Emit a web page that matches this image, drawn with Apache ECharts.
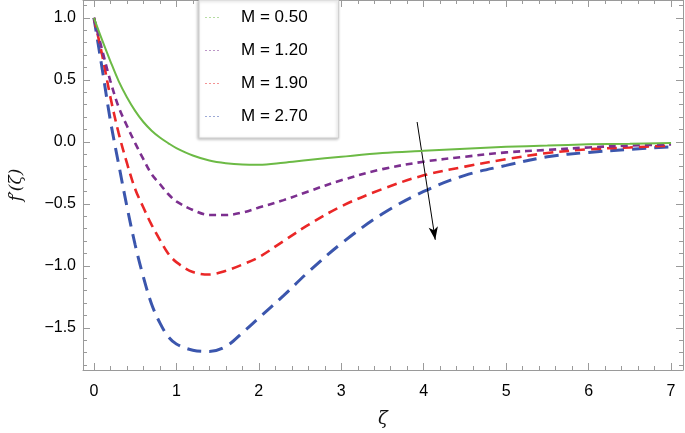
<!DOCTYPE html>
<html>
<head>
<meta charset="utf-8">
<script src="https://cdn.jsdelivr.net/npm/echarts@6/dist/echarts.min.js"></script>
<style>html,body{margin:0;padding:0;background:#fff}#c{width:685px;height:433px}</style>
</head>
<body>
<div id="c"></div>
<script>
const zeta = [0, 0.1, 0.2, 0.3, 0.4, 0.5, 0.6, 0.7, 0.8, 0.9, 1.0, 1.2, 1.4, 1.6, 1.8, 2.0, 2.3, 2.6, 3.0, 3.5, 4.0, 4.5, 5.0, 5.5, 6.0, 6.5, 7.0];
const seriesNames = ['M = 0.50', 'M = 1.20', 'M = 1.90', 'M = 2.70'];
const fM050 = [1.0, 0.82, 0.65, 0.49, 0.36, 0.25, 0.16, 0.09, 0.035, -0.01, -0.05, -0.11, -0.15, -0.172, -0.183, -0.185, -0.168, -0.146, -0.12, -0.09, -0.072, -0.055, -0.04, -0.03, -0.02, -0.015, -0.01];
const fM120 = [1.0, 0.74, 0.49, 0.28, 0.13, -0.01, -0.14, -0.26, -0.34, -0.42, -0.48, -0.55, -0.59, -0.59, -0.57, -0.53, -0.47, -0.40, -0.31, -0.22, -0.16, -0.12, -0.085, -0.065, -0.045, -0.03, -0.02];
const fM190 = [1.0, 0.70, 0.36, 0.07, -0.17, -0.38, -0.53, -0.67, -0.79, -0.90, -0.97, -1.05, -1.07, -1.04, -0.99, -0.93, -0.80, -0.67, -0.52, -0.38, -0.27, -0.20, -0.14, -0.09, -0.06, -0.045, -0.03];
const fM270 = [1.0, 0.59, 0.17, -0.18, -0.52, -0.83, -1.09, -1.31, -1.46, -1.57, -1.63, -1.68, -1.69, -1.65, -1.54, -1.42, -1.24, -1.05, -0.82, -0.58, -0.40, -0.27, -0.19, -0.12, -0.085, -0.06, -0.04];
const xMajor = [0, 1, 2, 3, 4, 5, 6, 7];
const xMinor = [0.2,0.4,0.6,0.8,1.2,1.4,1.6,1.8,2.2,2.4,2.6,2.8,3.2,3.4,3.6,3.8,4.2,4.4,4.6,4.8,5.2,5.4,5.6,5.8,6.2,6.4,6.6,6.8,7.0];
const yMajor = [-1.5, -1.0, -0.5, 0.0, 0.5, 1.0];
const yMinor = [-1.8,-1.7,-1.6,-1.4,-1.3,-1.2,-1.1,-0.9,-0.8,-0.7,-0.6,-0.4,-0.3,-0.2,-0.1,0.1,0.2,0.3,0.4,0.6,0.7,0.8,0.9,1.1];
const arrowFrom = [3.92, 0.16];
const arrowTo = [4.14, -0.79];

const colors = ['#6cba45', '#7c2f8f', '#ea2727', '#3b56ad'];
const dashes = ['solid', [7, 5], [10, 6], [14, 8]];
const widths = [2, 2.6, 2.6, 3];
const values = [fM050, fM120, fM190, fM270];

const X_MIN = -0.1325, X_MAX = 7.145, Y_MIN = -1.84, Y_MAX = 1.144;
const frameColor = '#9a9a9a';
const font = 'Liberation Sans, Arial, sans-serif';
const dottedIcon = 'path://M0,0h2v1h-2zM4,0h2v1h-2zM8,0h2v1h-2zM12,0h2v1h-2z';

function xAx(pos, ticks, len, major) {
  return {
    type: 'value', position: pos, min: X_MIN, max: X_MAX, gridIndex: 0,
    axisLine: { show: major, onZero: false, lineStyle: { color: frameColor, width: 1 } },
    axisTick: { show: true, inside: true, length: len, customValues: ticks, lineStyle: { color: frameColor } },
    axisLabel: (pos === 'bottom' && major) ? { show: true, customValues: xMajor, fontFamily: font, fontSize: 16, color: '#000', margin: 14 } : { show: false },
    splitLine: { show: false }
  };
}
function yAx(pos, ticks, len, major) {
  return {
    type: 'value', position: pos, min: Y_MIN, max: Y_MAX, gridIndex: 0,
    axisLine: { show: major, onZero: false, lineStyle: { color: frameColor, width: 1 } },
    axisTick: { show: true, inside: true, length: len, customValues: ticks, lineStyle: { color: frameColor } },
    axisLabel: (pos === 'left' && major) ? { show: true, customValues: yMajor, fontFamily: font, fontSize: 16, color: '#000', margin: 7,
      formatter: v => (v < 0 ? '\u2212' : '') + Math.abs(v).toFixed(1) } : { show: false },
    splitLine: { show: false }
  };
}

const xAxes = [xAx('bottom', xMajor, 7, true), xAx('bottom', xMinor, 4, false), xAx('top', xMajor, 7, true), xAx('top', xMinor, 4, false)];
xAxes[0].name = 'ζ';
xAxes[0].nameLocation = 'middle';
xAxes[0].nameGap = 40;
xAxes[0].nameTextStyle = { fontFamily: 'DejaVu Serif, serif', fontStyle: 'italic', fontSize: 18, color: '#111' };
const yAxes = [yAx('left', yMajor, 7, true), yAx('left', yMinor, 4, false), yAx('right', yMajor, 7, true), yAx('right', yMinor, 4, false)];
yAxes[0].name = 'f\u2032(ζ)';
yAxes[0].nameLocation = 'middle';
yAxes[0].nameGap = 58;
yAxes[0].nameTextStyle = { fontFamily: 'DejaVu Serif, serif', fontStyle: 'italic', fontSize: 17, color: '#111' };

const series = seriesNames.map((name, i) => ({
  name: name, type: 'line', xAxisIndex: 0, yAxisIndex: 0,
  data: zeta.map((z, k) => [z, values[i][k]]),
  color: colors[i],
  smooth: 0.35, showSymbol: false, symbol: 'none',
  lineStyle: { color: colors[i], width: widths[i], type: dashes[i], cap: 'butt' },
  itemStyle: { color: colors[i] },
  z: 5 - i
}));
series[0].markLine = {
  silent: true, symbol: ['none', 'arrow'], symbolSize: [7, 13],
  label: { show: false },
  lineStyle: { color: '#000', width: 1, type: 'solid' },
  data: [[{ coord: arrowFrom }, { coord: arrowTo }]]
};

const chart = echarts.init(document.getElementById('c'), null, { renderer: 'canvas' });
chart.setOption({
  animation: false,
  color: colors,
  grid: { left: 79, right: 2, top: 0, bottom: 60, containLabel: false },
  xAxis: xAxes,
  yAxis: yAxes,
  legend: {
    left: 199, top: 0, orient: 'vertical',
    backgroundColor: '#fff', borderColor: '#cfcfcf', borderWidth: 1,
    shadowColor: 'rgba(0,0,0,0.25)', shadowBlur: 3, shadowOffsetX: -1, shadowOffsetY: 1,
    padding: [9, 31, 13, 6], itemGap: 16, itemWidth: 14, itemHeight: 1,
    icon: dottedIcon,
    itemStyle: { opacity: 0.5 },
    textStyle: { fontFamily: font, fontSize: 17, color: '#000', padding: [0, 0, 0, 17] },
    data: seriesNames,
    selectedMode: false
  },
  series: series
});
</script>
</body>
</html>
